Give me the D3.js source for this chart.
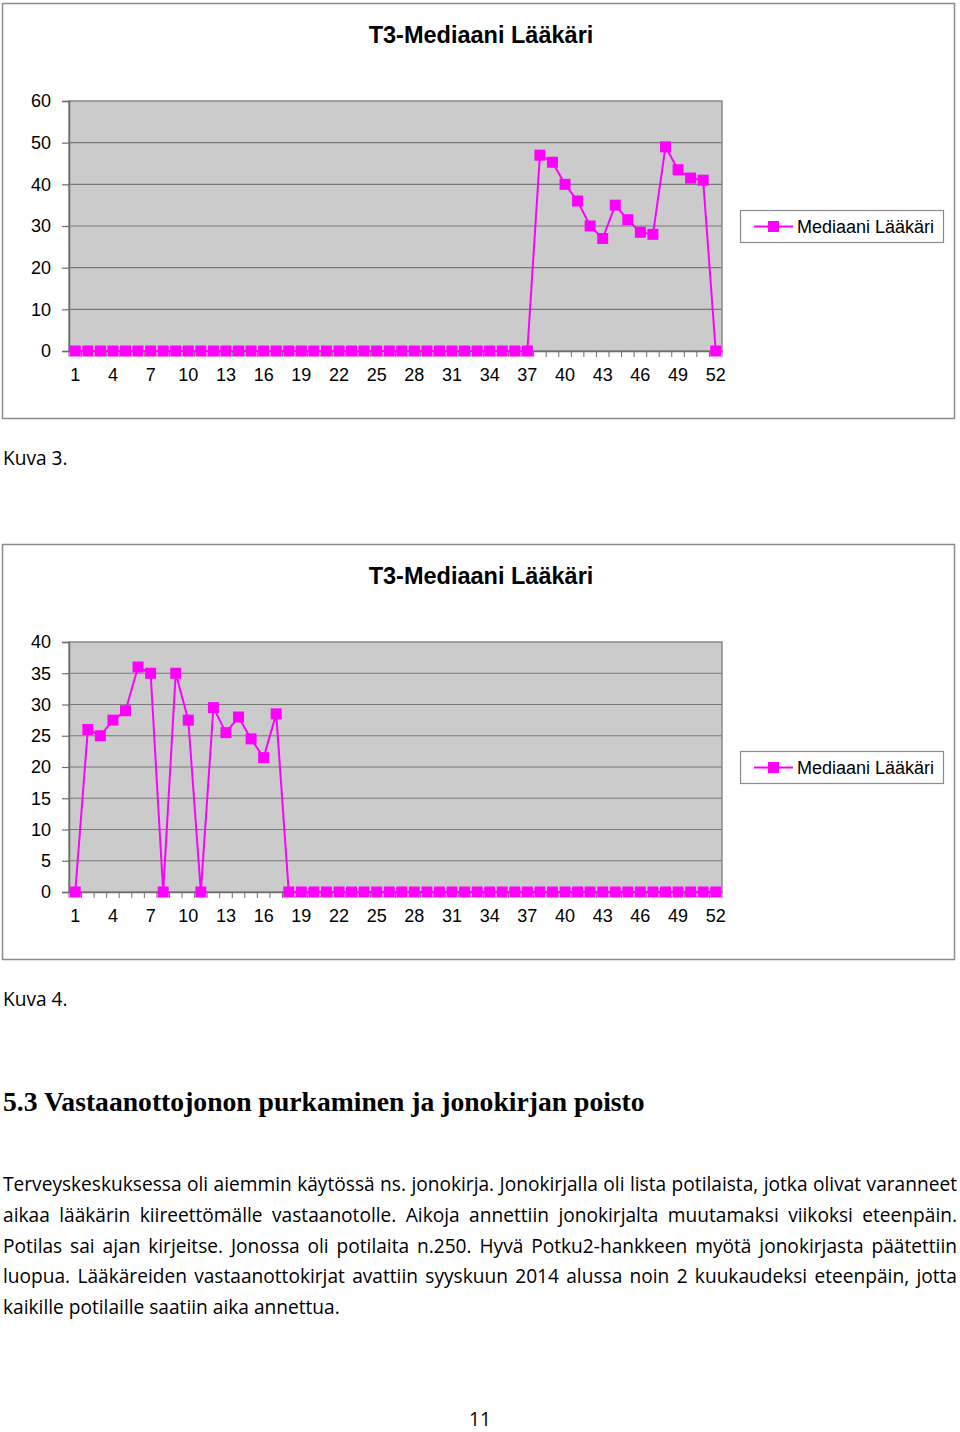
<!DOCTYPE html>
<html><head><meta charset="utf-8">
<script src="https://cdn.jsdelivr.net/npm/d3@7"></script>
<style>html,body{margin:0;padding:0;background:#fff;}svg{display:block;}</style>
</head><body>
<script>
// ---- data ----
const weeks = [1,2,3,4,5,6,7,8,9,10,11,12,13,14,15,16,17,18,19,20,21,22,23,24,25,26,
  27,28,29,30,31,32,33,34,35,36,37,38,39,40,41,42,43,44,45,46,47,48,49,50,51,52];
const xTickLabels = [1,4,7,10,13,16,19,22,25,28,31,34,37,40,43,46,49,52];
const chart1Values = [0,0,0,0,0,0,0,0,0,0,0,0,0,0,0,0,0,0,0,0,0,0,0,0,0,0,
  0,0,0,0,0,0,0,0,0,0,0,47,45.3,40,36,30,27,35,31.5,28.5,28,49,43.5,41.5,41,0];
const chart1YTicks = [0,10,20,30,40,50,60];
const chart2Values = [0,26,25,27.5,29,36,35,0,35,27.5,0,29.5,25.5,28,24.5,21.5,28.5,0,0,0,0,0,0,0,0,0,
  0,0,0,0,0,0,0,0,0,0,0,0,0,0,0,0,0,0,0,0,0,0,0,0,0,0];
const chart2YTicks = [0,5,10,15,20,25,30,35,40];
const chartTitle = "T3-Mediaani Lääkäri";
const seriesName = "Mediaani Lääkäri";
const caption1 = "Kuva 3.";
const caption2 = "Kuva 4.";
const heading = "5.3 Vastaanottojonon purkaminen ja jonokirjan poisto";
const bodyLines = [
  "Terveyskeskuksessa oli aiemmin käytössä ns. jonokirja. Jonokirjalla oli lista potilaista, jotka olivat varanneet",
  "aikaa lääkärin kiireettömälle vastaanotolle. Aikoja annettiin jonokirjalta muutamaksi viikoksi eteenpäin.",
  "Potilas sai ajan kirjeitse. Jonossa oli potilaita n.250. Hyvä Potku2-hankkeen myötä jonokirjasta päätettiin",
  "luopua. Lääkäreiden vastaanottokirjat avattiin syyskuun 2014 alussa noin 2 kuukaudeksi eteenpäin, jotta",
  "kaikille potilaille saatiin aika annettua."
];
const pageNumber = "11";

// ---- drawing ----
const W = 960, H = 1432;
const svg = d3.select("body").append("svg").attr("width", W).attr("height", H);
const MAG = "#ff00ff";
const chartFont = "'Liberation Sans', Arial, sans-serif";

function drawChart(top, values, yTicks, yMax) {
  const g = svg.append("g");
  g.append("rect").attr("x", 2.5).attr("y", top + 0.5).attr("width", 952).attr("height", 415)
    .attr("fill", "#fff").attr("stroke", "#8c8c8c").attr("stroke-width", 1.5);
  g.append("text").attr("x", 481).attr("y", top + 40).attr("text-anchor", "middle")
    .attr("font-family", chartFont).attr("font-weight", "bold").attr("font-size", 23.5)
    .attr("fill", "#000").text(chartTitle);

  const pl = 69, pr = 722, pt = top + 98, pb = top + 348;
  const x = d3.scaleBand().domain(weeks).range([pl, pr]).padding(0);
  const y = d3.scaleLinear().domain([0, yMax]).range([pb, pt]);

  g.append("rect").attr("x", pl).attr("y", pt).attr("width", pr - pl).attr("height", pb - pt)
    .attr("fill", "#cbcbcb").attr("stroke", "#8a8a8a").attr("stroke-width", 1.5);

  g.append("g").selectAll("line").data(yTicks.filter(d => d > 0 && d < yMax)).join("line")
    .attr("x1", pl).attr("x2", pr).attr("y1", d => y(d)).attr("y2", d => y(d))
    .attr("stroke", "#7a7a7a").attr("stroke-width", 1.2);

  const ya = g.append("g").attr("transform", `translate(${pl},0)`)
    .call(d3.axisLeft(y).tickValues(yTicks).tickSize(7).tickPadding(11).tickFormat(d3.format("d")));
  ya.select(".domain").attr("stroke", "#6e6e6e").attr("stroke-width", 1.5);
  ya.selectAll(".tick line").attr("stroke", "#6e6e6e").attr("stroke-width", 1.2);
  ya.selectAll(".tick text").attr("font-family", chartFont).attr("font-size", 18).attr("fill", "#000");

  const xa = g.append("g").attr("transform", `translate(0,${pb})`)
    .call(d3.axisBottom(x).tickValues(xTickLabels).tickSize(0).tickPadding(17));
  xa.select(".domain").attr("stroke", "#6e6e6e").attr("stroke-width", 1.5);
  xa.selectAll(".tick text").attr("font-family", chartFont).attr("font-size", 18).attr("fill", "#000");
  g.append("g").selectAll("line").data(weeks.concat([53])).join("line")
    .attr("x1", d => d <= 52 ? x(d) : pr).attr("x2", d => d <= 52 ? x(d) : pr)
    .attr("y1", pb).attr("y2", pb + 6).attr("stroke", "#6e6e6e").attr("stroke-width", 1);

  const cx = d => x(d) + x.bandwidth() / 2;
  const line = d3.line().x((d, i) => cx(weeks[i])).y(d => y(d));
  g.append("path").datum(values).attr("d", line).attr("fill", "none")
    .attr("stroke", MAG).attr("stroke-width", 2);
  const ms = 11;
  g.append("g").selectAll("rect").data(values).join("rect")
    .attr("x", (d, i) => cx(weeks[i]) - ms / 2).attr("y", d => y(d) - ms / 2)
    .attr("width", ms).attr("height", ms).attr("fill", MAG);

  const lg = g.append("g");
  lg.append("rect").attr("x", 740.5).attr("y", top + 207.5).attr("width", 203).attr("height", 32)
    .attr("fill", "#fff").attr("stroke", "#8c8c8c").attr("stroke-width", 1.2);
  const ly = top + 223.5;
  lg.append("line").attr("x1", 754).attr("x2", 793).attr("y1", ly).attr("y2", ly)
    .attr("stroke", MAG).attr("stroke-width", 2);
  lg.append("rect").attr("x", 773.5 - 5.5).attr("y", ly - 5.5).attr("width", 11).attr("height", 11).attr("fill", MAG);
  lg.append("text").attr("x", 797).attr("y", ly + 6.5).attr("font-family", chartFont)
    .attr("font-size", 18).attr("fill", "#000").text(seriesName);
}

drawChart(3, chart1Values, chart1YTicks, 60);
drawChart(544, chart2Values, chart2YTicks, 40);

const bodyFont = "'Open Sans', Lato, sans-serif";
let bodySize = 18;
{
  const t = svg.append("text").attr("font-family", bodyFont).attr("font-size", 18).text(bodyLines[bodyLines.length - 1]);
  const w = t.node().getComputedTextLength();
  bodySize = 18 * 337 / w;
  t.remove();
}
svg.append("text").attr("x", 3).attr("y", 465).attr("font-family", bodyFont).attr("font-size", bodySize)
  .attr("fill", "#000").text(caption1);
svg.append("text").attr("x", 3).attr("y", 1006).attr("font-family", bodyFont).attr("font-size", bodySize)
  .attr("fill", "#000").text(caption2);

const hd = svg.append("text").attr("x", 3).attr("y", 1111)
  .attr("font-family", "'Liberation Serif', 'DejaVu Serif', serif").attr("font-weight", "bold")
  .attr("font-size", 24).attr("fill", "#000").text(heading);
const hw = hd.node().getComputedTextLength();
hd.attr("font-size", 24 * 642 / hw);

const baseY = 1191, lh = 30.8, left = 3, right = 957;
bodyLines.forEach((ln, li) => {
  const words = ln.split(" ");
  const yy = baseY + li * lh;
  const last = li === bodyLines.length - 1;
  const g = svg.append("g");
  const nodes = words.map(w => g.append("text").attr("y", yy).attr("font-family", bodyFont)
    .attr("font-size", bodySize).attr("fill", "#000").text(w));
  const widths = nodes.map(n => n.node().getComputedTextLength());
  const total = widths.reduce((a, b) => a + b, 0);
  const t = g.append("text").attr("font-family", bodyFont).attr("font-size", bodySize).text("a a");
  const t2 = g.append("text").attr("font-family", bodyFont).attr("font-size", bodySize).text("aa");
  const spaceW = t.node().getComputedTextLength() - t2.node().getComputedTextLength();
  t.remove(); t2.remove();
  const gap = last ? spaceW : (right - left - total) / (words.length - 1);
  let xx = left;
  nodes.forEach((n, i) => { n.attr("x", xx); xx += widths[i] + gap; });
});

svg.append("text").attr("x", 480).attr("y", 1426).attr("text-anchor", "middle").attr("font-family", bodyFont)
  .attr("font-size", bodySize).attr("fill", "#000").text(pageNumber);
</script>
</body></html>
